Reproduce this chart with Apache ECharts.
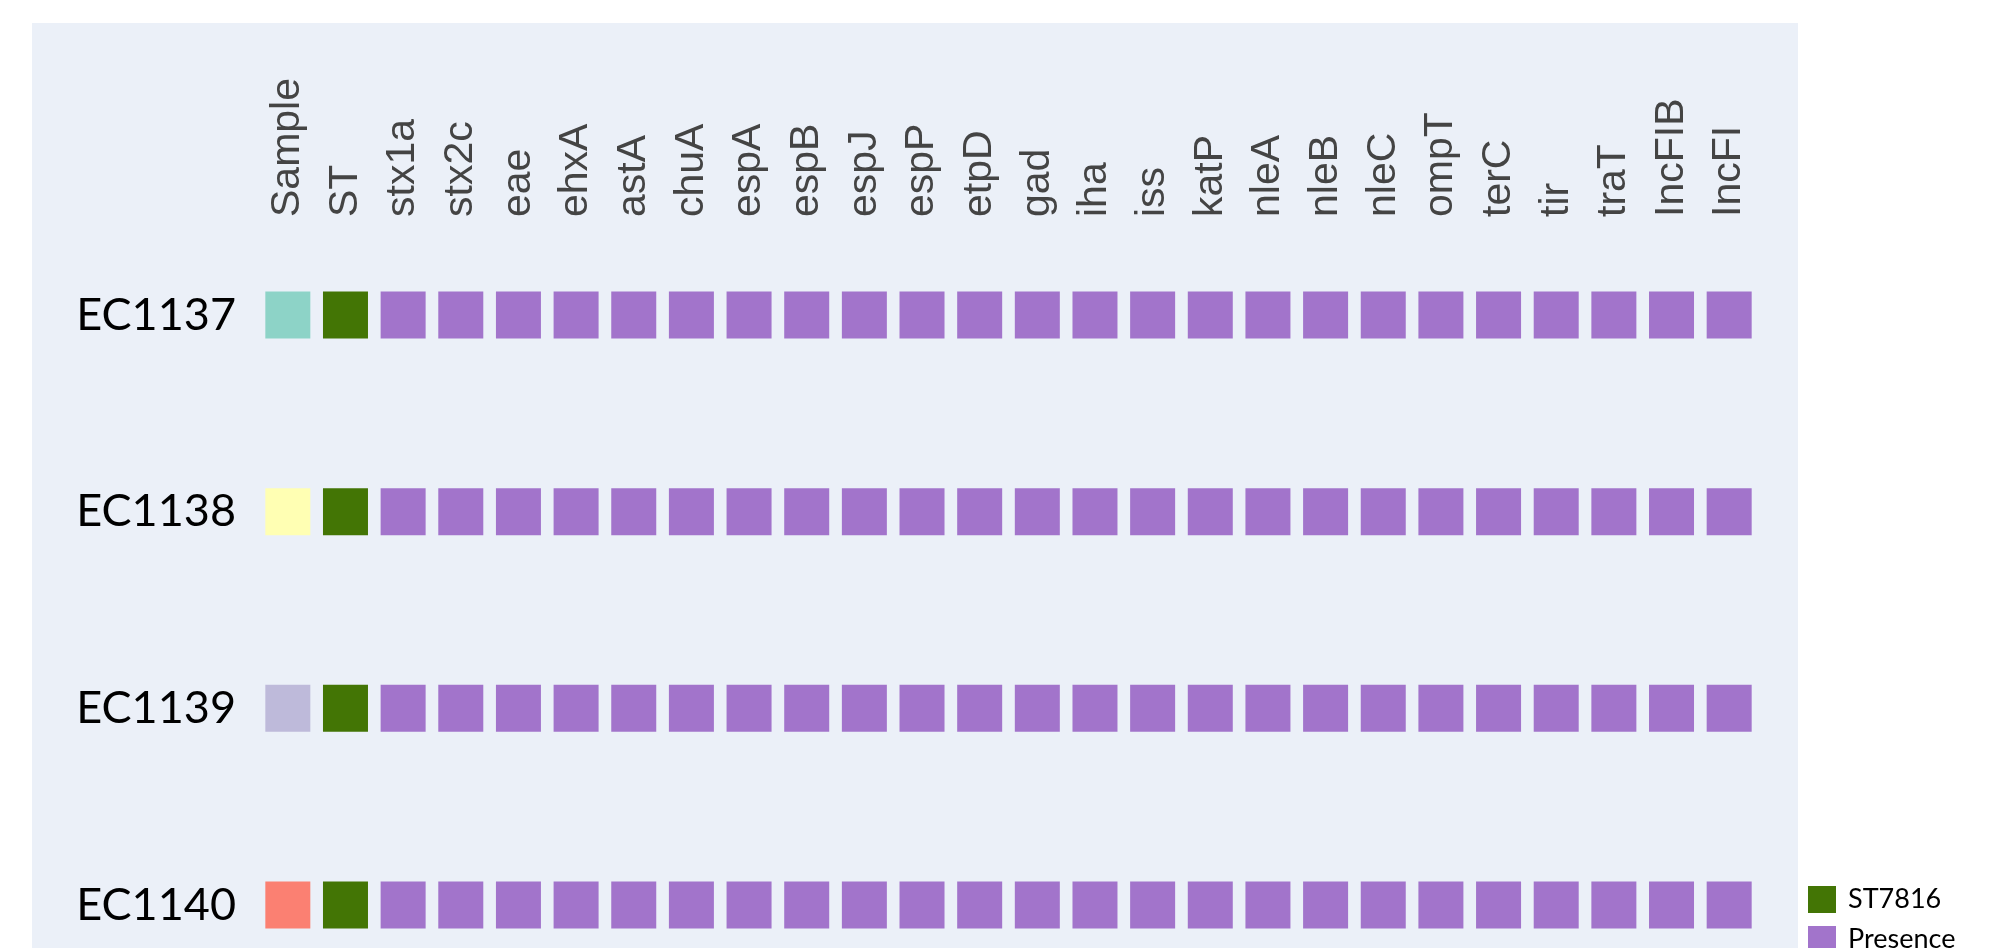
<!DOCTYPE html>
<html>
<head>
<meta charset="utf-8">
<script src="https://cdn.jsdelivr.net/npm/echarts@6/dist/echarts.min.js"></script>
<style>
    html, body { margin: 0; padding: 0; background: #ffffff; }
    #con_heat { width: 2000px; height: 948px; }
</style>
</head>
<body>
<div id="con_heat"></div>
<script>
// 列名
var columns = ['Sample', 'ST', 'stx1a', 'stx2c', 'eae', 'ehxA', 'astA', 'chuA', 'espA', 'espB', 'espJ',
    'espP', 'etpD', 'gad', 'iha', 'iss', 'katP', 'nleA', 'nleB', 'nleC', 'ompT', 'terC', 'tir', 'traT',
    'IncFIB', 'IncFI'];
var genes = columns.slice(2);
// 样本
var samples = ['EC1137', 'EC1138', 'EC1139', 'EC1140'];
var sampleColors = ['#8DD3C7', '#FFFFB3', '#BEBADA', '#FB8072'];
var stTypes = ['ST7816', 'ST7816', 'ST7816', 'ST7816'];
var stColors = { 'ST7816': '#437505' };
var presenceColor = '#A274CB';
// 基因存在 (1 = 存在)
var ec1137 = [1, 1, 1, 1, 1, 1, 1, 1, 1, 1, 1, 1, 1, 1, 1, 1, 1, 1, 1, 1, 1, 1, 1, 1];
var ec1138 = [1, 1, 1, 1, 1, 1, 1, 1, 1, 1, 1, 1, 1, 1, 1, 1, 1, 1, 1, 1, 1, 1, 1, 1];
var ec1139 = [1, 1, 1, 1, 1, 1, 1, 1, 1, 1, 1, 1, 1, 1, 1, 1, 1, 1, 1, 1, 1, 1, 1, 1];
var ec1140 = [1, 1, 1, 1, 1, 1, 1, 1, 1, 1, 1, 1, 1, 1, 1, 1, 1, 1, 1, 1, 1, 1, 1, 1];
var presence = [ec1137, ec1138, ec1139, ec1140];

var cellSize = [45, 47];

// 样本色块
var sampleData = [];
for (var i = 0; i < samples.length; i++) {
    sampleData.push({ value: ['Sample', samples[i]], itemStyle: { color: sampleColors[i] } });
}
// ST 按类型分组
var stSeries = {};
for (var i = 0; i < samples.length; i++) {
    if (!stSeries[stTypes[i]]) stSeries[stTypes[i]] = [];
    stSeries[stTypes[i]].push(['ST', samples[i]]);
}
// 基因存在
var presenceData = [];
for (var i = 0; i < samples.length; i++) {
    for (var j = 0; j < genes.length; j++) {
        if (presence[i][j] === 1) presenceData.push([genes[j], samples[i]]);
    }
}

var series = [{
    name: 'Sample',
    type: 'scatter',
    symbol: 'rect',
    symbolSize: cellSize,
    itemStyle: { opacity: 1 },
    data: sampleData
}];
var legendNames = [];
for (var st in stSeries) {
    legendNames.push(st);
    series.push({
        name: st,
        type: 'scatter',
        symbol: 'rect',
        symbolSize: cellSize,
        itemStyle: { color: stColors[st], opacity: 1 },
        data: stSeries[st]
    });
}
legendNames.push('Presence');
series.push({
    name: 'Presence',
    type: 'scatter',
    symbol: 'rect',
    symbolSize: cellSize,
    itemStyle: { color: presenceColor, opacity: 1 },
    data: presenceData
});

// 图例: 每项一行
var legends = [];
for (var k = 0; k < legendNames.length; k++) {
    legends.push({
        data: [legendNames[k]],
        left: 1808,
        top: 886 + k * 40,
        padding: 0,
        icon: 'rect',
        itemWidth: 28,
        itemHeight: 27,
        textStyle: {
            color: '#000000',
            fontFamily: 'Lato',
            fontSize: 27,
            padding: [0, 0, 0, 7]
        }
    });
}

var myChart = echarts.init(document.getElementById('con_heat'));
myChart.setOption({
    animation: false,
    backgroundColor: '#ffffff',
    // 背景面板
    graphic: [{
        type: 'rect',
        z: -10,
        shape: { x: 32, y: 23, width: 1766, height: 925 },
        style: { fill: '#EBF0F8' }
    }],
    grid: {
        left: 259,
        right: 242,
        top: 315,
        bottom: 43
    },
    xAxis: {
        type: 'category',
        position: 'top',
        data: columns,
        axisLine: { show: false },
        axisTick: { show: false },
        splitLine: { show: false },
        axisLabel: {
            interval: 0,
            rotate: -90,
            margin: 98,
            color: '#444444',
            fontFamily: 'Liberation Sans',
            fontSize: 41
        }
    },
    yAxis: {
        type: 'category',
        inverse: true,
        boundaryGap: false,
        data: samples,
        axisLine: { show: false },
        axisTick: { show: false },
        splitLine: { show: false },
        axisLabel: {
            margin: 23,
            color: '#000000',
            fontFamily: 'Lato',
            fontSize: 45
        }
    },
    legend: legends,
    series: series
});
</script>
</body>
</html>
